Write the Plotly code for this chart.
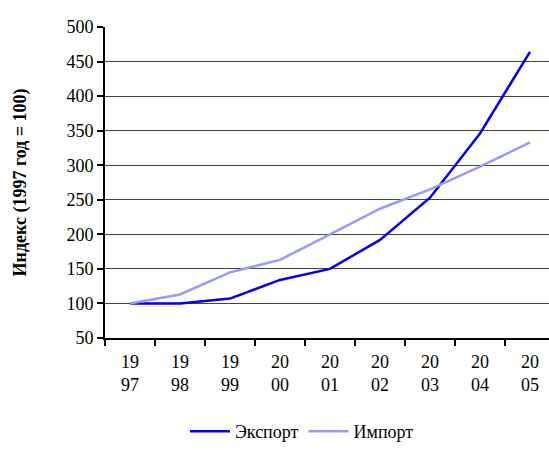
import plotly.graph_objects as go

years = ["19<br>97", "19<br>98", "19<br>99", "20<br>00", "20<br>01", "20<br>02", "20<br>03", "20<br>04", "20<br>05"]
export = [100, 100, 107, 134, 150, 192, 253, 346, 464]
imports = [100, 113, 145, 163, 200, 237, 265, 298, 333]

font = "Liberation Serif"

fig = go.Figure()
fig.add_trace(go.Scatter(x=years, y=export, mode="lines", name="Экспорт",
                         line=dict(color="#0000ee", width=2.5)))
fig.add_trace(go.Scatter(x=years, y=imports, mode="lines", name="Импорт",
                         line=dict(color="#9999ff", width=2.5)))

fig.update_layout(
    template="none",
    width=549, height=450,
    margin=dict(l=105, r=0, t=27, b=112),
    paper_bgcolor="white", plot_bgcolor="white",
    font=dict(family=font, size=18, color="black"),
    showlegend=True,
    legend=dict(orientation="h", x=0.55, xanchor="center", xref="container",
                y=0.0, yanchor="bottom", yref="container",
                font=dict(family=font, size=18, color="black"), itemwidth=40),
    xaxis=dict(
        type="category", range=[-0.5, 8.38], automargin=False,
        showline=True, linecolor="black", linewidth=2, mirror=False,
        ticks="outside", tickson="boundaries", ticklen=6, tickwidth=2, tickcolor="black",
        showgrid=False, tickfont=dict(family=font, size=18, color="black"), ticklabelstandoff=6,
    ),
    yaxis=dict(
        range=[50, 500], dtick=50, automargin=False,
        showline=True, linecolor="black", linewidth=2,
        ticks="outside", ticklen=6, tickwidth=2, tickcolor="black",
        showgrid=True, gridcolor="#444444", gridwidth=1,
        zeroline=False, tickfont=dict(family=font, size=18, color="black"),
        title=dict(text="<b>Индекс (1997 год = 100)</b>",
                   font=dict(family=font, size=18, color="black"), standoff=35),
    ),
)

fig.write_html("out.html", config={"displayModeBar": False},
               post_script="document.body.style.margin='0';")
